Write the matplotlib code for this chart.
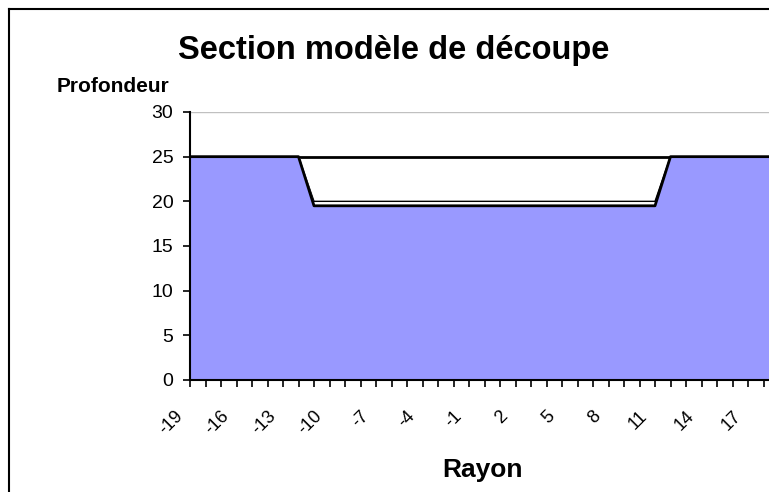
import matplotlib
matplotlib.use("Agg")
import matplotlib.pyplot as plt
import matplotlib.transforms as mtransforms
from matplotlib.lines import Line2D

plt.rcParams['font.family'] = ['Liberation Sans', 'DejaVu Sans']

# Rayon (catégories) et profondeurs
rayon = [-19, -18, -17, -16, -15, -14, -13, -12, -11, -10, -9, -8, -7, -6, -5, -4, -3,
         -2, -1, 0, 1, 2, 3, 4, 5, 6, 7, 8, 9, 10, 11, 12, 13, 14, 15, 16, 17, 18, 19]
surface = [25, 25, 25, 25, 25, 25, 25, 25, 25, 25, 25, 25, 25, 25, 25, 25, 25,
           25, 25, 25, 25, 25, 25, 25, 25, 25, 25, 25, 25, 25, 25, 25, 25, 25, 25, 25, 25, 25, 25]
fond = [25, 25, 25, 25, 25, 25, 25, 25, 20, 20, 20, 20, 20, 20, 20, 20, 20,
        20, 20, 20, 20, 20, 20, 20, 20, 20, 20, 20, 20, 20, 20, 25, 25, 25, 25, 25, 25, 25, 25]
profil = [25, 25, 25, 25, 25, 25, 25, 25, 19.5, 19.5, 19.5, 19.5, 19.5, 19.5, 19.5, 19.5, 19.5,
          19.5, 19.5, 19.5, 19.5, 19.5, 19.5, 19.5, 19.5, 19.5, 19.5, 19.5, 19.5, 19.5, 19.5,
          25, 25, 25, 25, 25, 25, 25, 25]
y_ticks = [0, 5, 10, 15, 20, 25, 30]

W, H = 769, 492
fig = plt.figure(figsize=(W / 100, H / 100), dpi=100)
ax = fig.add_axes([190 / W, (H - 380) / H, 589 / W, 268 / H])

x = list(range(len(rayon)))

# séries en aire, de l'arrière vers l'avant
ax.fill_between(x, surface, color='white', zorder=1)
ax.plot(x, surface, color='black', lw=2, zorder=2)
ax.fill_between(x, fond, color='white', zorder=3)
ax.plot(x, fond, color='black', lw=1, zorder=4)
ax.fill_between(x, profil, color='#9999FF', zorder=5)
ax.plot(x, profil, color='black', lw=2, zorder=6)

ax.axhline(30, color='#c0c0c0', lw=1, zorder=0)

ax.set_xlim(0, len(rayon) - 1)
ax.set_ylim(0, 30)
ax.set_yticks(y_ticks)
ax.set_yticklabels([str(v) for v in y_ticks], fontsize=14)
ax.set_xticks(x)
ax.set_xticklabels([str(r) if i % 3 == 0 else '' for i, r in enumerate(rayon)],
                   fontsize=13, rotation=45, ha='right', va='center',
                   rotation_mode='anchor')
ax.tick_params(axis='both', direction='out', length=5, width=1.2, color='black')
ax.tick_params(axis='x', pad=19)
ax.tick_params(axis='y', pad=7)

# étiquettes inclinées décalées vers la gauche
shift = mtransforms.ScaledTranslation(-10 / 100, 0, fig.dpi_scale_trans)
for lab in ax.get_xticklabels():
    lab.set_transform(lab.get_transform() + shift)

for side in ['top', 'right']:
    ax.spines[side].set_visible(False)
for side in ['left', 'bottom']:
    ax.spines[side].set_linewidth(1.5)
    ax.spines[side].set_zorder(10)

fig.text(394 / W, 1 - 51 / H, 'Section modèle de découpe', fontsize=23.5,
         fontweight='bold', ha='center', va='center')
fig.text(113 / W, 1 - 87 / H, 'Profondeur', fontsize=15,
         fontweight='bold', ha='center', va='center')
fig.text(482 / W, 1 - 470 / H, 'Rayon', fontsize=19,
         fontweight='bold', ha='center', va='center')

# cadre du graphique
bx, by = 9 / W, 1 - 9 / H
fig.add_artist(Line2D([bx, bx], [0, by], color='black', lw=1.5, transform=fig.transFigure))
fig.add_artist(Line2D([bx, 1], [by, by], color='black', lw=1.5, transform=fig.transFigure))

fig.savefig('out.png', dpi=100)
